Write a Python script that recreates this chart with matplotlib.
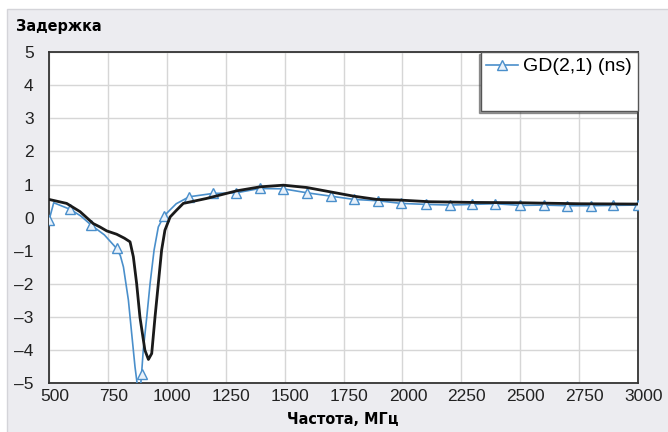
"""Group delay chart: measured vs simulated GD(2,1)."""

import matplotlib
matplotlib.use("Agg")
import matplotlib.pyplot as plt
from matplotlib.patches import Rectangle
from matplotlib.transforms import ScaledTranslation

# measured curve (black)
meas_freq = [500, 575, 632, 688, 716, 745, 787, 820, 844, 858, 872, 886, 907,
             922, 936, 950, 964, 978, 992, 1014, 1042, 1070, 1169, 1297, 1396,
             1495, 1594, 1693, 1792, 1891, 1990, 2117, 2300, 2500, 2750, 3000]
meas_val = [0.55, 0.43, 0.18, -0.18, -0.28, -0.40, -0.50, -0.62, -0.73, -1.18,
            -1.99, -3.0, -4.0, -4.28, -4.1, -3.0, -1.99, -0.98, -0.38, 0.02,
            0.23, 0.43, 0.58, 0.81, 0.93, 0.98, 0.91, 0.78, 0.65, 0.55, 0.53,
            0.48, 0.46, 0.45, 0.42, 0.41]

# simulated GD(2,1) (blue), line points
gd_freq = [500, 520, 590, 635, 680, 735, 787, 803, 816, 837, 851, 865, 875,
           884, 893, 900, 915, 929, 946, 964, 988, 1040, 1095, 1195, 1295,
           1395, 1495, 1595, 1695, 1795, 1895, 1995, 2100, 2200, 2295, 2395,
           2500, 2600, 2700, 2800, 2895, 3000]
gd_val = [-0.08, 0.45, 0.25, 0.05, -0.23, -0.52, -0.93, -1.15, -1.49, -2.49,
          -3.5, -4.5, -5.06, -5.5, -4.71, -4.0, -3.0, -1.99, -0.98, -0.28,
          0.05, 0.42, 0.63, 0.73, 0.75, 0.88, 0.87, 0.75, 0.65, 0.55, 0.51,
          0.43, 0.40, 0.38, 0.40, 0.42, 0.37, 0.38, 0.36, 0.36, 0.37, 0.38]
# frequencies that carry a triangle marker
gd_marks = [500, 590, 680, 787, 893, 988, 1095, 1195, 1295, 1395, 1495, 1595,
            1695, 1795, 1895, 1995, 2100, 2200, 2295, 2395, 2500, 2600, 2700,
            2800, 2895, 3000]

x_ticks = [500, 750, 1000, 1250, 1500, 1750, 2000, 2250, 2500, 2750, 3000]
y_ticks = [-5, -4, -3, -2, -1, 0, 1, 2, 3, 4, 5]

plt.rcParams["font.family"] = ["Liberation Sans", "DejaVu Sans"]

fig = plt.figure(figsize=(6.68, 4.32), dpi=100, facecolor="white")
fig.add_artist(Rectangle((7 / 668, -0.01), 1.0, (432 - 9) / 432 + 0.01,
                         transform=fig.transFigure, facecolor="#ececf0",
                         edgecolor="#d4d4d9", linewidth=1, zorder=-10))

ax = fig.add_axes([49 / 668, 48.7 / 432, 589 / 668, 331.3 / 432])
ax.set_facecolor("white")

ax.plot(gd_freq, gd_val, color="#4a8fcb", linewidth=1.2, marker="^",
        markersize=6.5, markerfacecolor="#e8f1fa", markeredgecolor="#4a8fcb",
        markeredgewidth=1.0, markevery=[gd_freq.index(f) for f in gd_marks],
        label="GD(2,1) (ns)", zorder=3)
ax.plot(meas_freq, meas_val, color="#1a1a1a", linewidth=2.0, zorder=4)
# empty row keeps the legend box tall as in the original
ax.plot([], [], color="none", label=" ")

ax.set_xlim(500, 3000)
ax.set_ylim(-5, 5)
ax.set_xticks(x_ticks)
ax.set_yticks(y_ticks)
ax.set_yticklabels([str(v).replace("-", "\u2013") for v in y_ticks])
ax.tick_params(length=0, labelsize=12.5, labelcolor="#222222")
ax.tick_params(axis="y", pad=11)
ax.tick_params(axis="x", pad=4)
# x labels in the original sit a little to the right of their gridlines
shift = ScaledTranslation(5.5 / 100, 0, fig.dpi_scale_trans)
for lbl in ax.get_xticklabels():
    lbl.set_transform(lbl.get_transform() + shift)
ax.grid(True, color="#d6d6d6", linewidth=1.0)
ax.set_axisbelow(True)
for sp in ax.spines.values():
    sp.set_color("#333333")
    sp.set_linewidth(1.3)

leg = ax.legend(loc="upper right", bbox_to_anchor=(1.0, 1.0), borderaxespad=0,
                fontsize=14, frameon=True, fancybox=False, handlelength=1.6,
                handletextpad=0.3, labelspacing=0.6, borderpad=0.3,
                shadow={"ox": -1, "oy": -1.5, "color": "#444444", "alpha": 0.5})
leg.get_frame().set_edgecolor("#555555")
leg.get_frame().set_linewidth(1.0)
leg.get_frame().set_facecolor("white")
leg.get_frame().set_alpha(1)

title_font = dict(family=["DejaVu Sans", "Liberation Sans"], stretch="condensed",
                  fontweight="bold", fontsize=11.5)
fig.text(16 / 668, 1 - 27 / 432, "Задержка", va="center", ha="left", **title_font)
fig.text(343 / 668, 1 - 420 / 432, "Частота, МГц", va="center", ha="center",
         **title_font)

fig.savefig("out.png", dpi=100, facecolor=fig.get_facecolor())
plt.close(fig)
